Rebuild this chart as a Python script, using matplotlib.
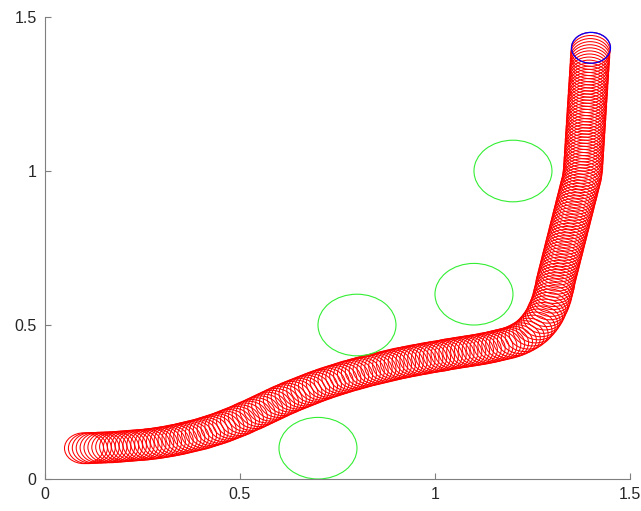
import matplotlib
matplotlib.use('Agg')
import matplotlib.pyplot as plt
from matplotlib.patches import Circle

# obstacles (green)
obs_x = [0.7, 0.8, 1.1, 1.2]
obs_y = [0.1, 0.5, 0.6, 1.0]
obs_r = 0.1

# robot radius and goal
robot_r = 0.05
goal = (1.4, 1.4)

# trajectory, in four pieces
path_x_1 = [0.10, 0.11, 0.12, 0.13, 0.14, 0.15, 0.16, 0.17, 0.18, 0.19,
            0.20, 0.21, 0.22, 0.23, 0.24, 0.25, 0.26, 0.27, 0.28, 0.29,
            0.30, 0.31, 0.32, 0.33, 0.34, 0.35, 0.36, 0.37, 0.38, 0.39,
            0.40, 0.41, 0.42, 0.43, 0.44, 0.45, 0.46, 0.47, 0.48, 0.49,
            0.50, 0.51, 0.52, 0.53, 0.54, 0.55, 0.56, 0.57, 0.58, 0.59,
            0.60, 0.61, 0.62, 0.63, 0.64, 0.65, 0.66, 0.67, 0.68, 0.69,
            0.70, 0.71, 0.72, 0.73, 0.74, 0.75, 0.76, 0.77, 0.78, 0.79,
            0.80, 0.81, 0.82, 0.83, 0.84, 0.85, 0.86, 0.87, 0.88, 0.89,
            0.90, 0.91, 0.92, 0.93, 0.94, 0.95, 0.96, 0.97, 0.98, 0.99,
            1.00, 1.01, 1.02, 1.03, 1.04, 1.05, 1.06, 1.07, 1.08, 1.09,
            1.10, 1.11, 1.12, 1.13, 1.14, 1.15, 1.16, 1.17, 1.18, 1.19,
            1.20]
path_y_1 = [0.100, 0.100, 0.101, 0.101, 0.102, 0.102, 0.103, 0.103, 0.104, 0.105,
            0.106, 0.107, 0.108, 0.109, 0.110, 0.111, 0.112, 0.114, 0.115, 0.117,
            0.119, 0.121, 0.123, 0.126, 0.128, 0.131, 0.134, 0.137, 0.140, 0.143,
            0.146, 0.150, 0.154, 0.158, 0.162, 0.166, 0.171, 0.176, 0.181, 0.186,
            0.191, 0.197, 0.203, 0.208, 0.214, 0.220, 0.226, 0.232, 0.238, 0.244,
            0.250, 0.256, 0.261, 0.267, 0.272, 0.277, 0.282, 0.287, 0.292, 0.297,
            0.302, 0.306, 0.311, 0.315, 0.319, 0.323, 0.327, 0.331, 0.335, 0.338,
            0.342, 0.345, 0.349, 0.352, 0.355, 0.358, 0.361, 0.364, 0.367, 0.370,
            0.373, 0.376, 0.378, 0.381, 0.383, 0.386, 0.388, 0.390, 0.393, 0.395,
            0.397, 0.399, 0.401, 0.404, 0.406, 0.408, 0.410, 0.412, 0.414, 0.416,
            0.418, 0.420, 0.422, 0.425, 0.427, 0.430, 0.433, 0.436, 0.439, 0.442,
            0.446]

path_x_2 = [1.210, 1.220, 1.230, 1.240, 1.250, 1.258, 1.265, 1.271, 1.277, 1.282,
            1.286, 1.290, 1.294, 1.297, 1.300, 1.302, 1.304, 1.306, 1.308]
path_y_2 = [0.451, 0.457, 0.464, 0.472, 0.482, 0.492, 0.502, 0.512, 0.523, 0.534,
            0.545, 0.556, 0.567, 0.578, 0.589, 0.600, 0.610, 0.620, 0.630]

path_x_3 = [1.309, 1.311, 1.313, 1.315, 1.317, 1.319, 1.321, 1.323, 1.325, 1.327,
            1.329, 1.331, 1.333, 1.335, 1.337, 1.339, 1.341, 1.343, 1.345, 1.347,
            1.349, 1.351, 1.353, 1.355, 1.357, 1.359, 1.361, 1.363, 1.365, 1.367,
            1.369, 1.371, 1.373, 1.375, 1.377]
path_y_3 = [0.64, 0.65, 0.66, 0.67, 0.68, 0.69, 0.70, 0.71, 0.72, 0.73,
            0.74, 0.75, 0.76, 0.77, 0.78, 0.79, 0.80, 0.81, 0.82, 0.83,
            0.84, 0.85, 0.86, 0.87, 0.88, 0.89, 0.90, 0.91, 0.92, 0.93,
            0.94, 0.95, 0.96, 0.97, 0.98]

path_x_4 = [1.378, 1.379, 1.380, 1.380, 1.381, 1.381, 1.382, 1.382, 1.383, 1.383,
            1.384, 1.384, 1.385, 1.385, 1.386, 1.386, 1.387, 1.387, 1.388, 1.388,
            1.389, 1.389, 1.390, 1.390, 1.391, 1.391, 1.392, 1.392, 1.393, 1.393,
            1.394, 1.394, 1.395, 1.395, 1.396, 1.396, 1.397, 1.397, 1.398, 1.398,
            1.399, 1.400]
path_y_4 = [0.99, 1.00, 1.01, 1.02, 1.03, 1.04, 1.05, 1.06, 1.07, 1.08,
            1.09, 1.10, 1.11, 1.12, 1.13, 1.14, 1.15, 1.16, 1.17, 1.18,
            1.19, 1.20, 1.21, 1.22, 1.23, 1.24, 1.25, 1.26, 1.27, 1.28,
            1.29, 1.30, 1.31, 1.32, 1.33, 1.34, 1.35, 1.36, 1.37, 1.38,
            1.39, 1.40]

ticks = [0, 0.5, 1, 1.5]
tick_labels = ['0', '0.5', '1', '1.5']

plt.rcParams['font.family'] = ['Liberation Sans', 'DejaVu Sans']

fig = plt.figure(figsize=(6.41, 5.11), dpi=100)
ax = fig.add_axes([0.0702, 0.0626, 0.9126, 0.9041])

path_x = path_x_1 + path_x_2 + path_x_3 + path_x_4
path_y = path_y_1 + path_y_2 + path_y_3 + path_y_4
for px, py in zip(path_x, path_y):
    ax.add_patch(Circle((px, py), robot_r, fill=False, edgecolor='red', linewidth=0.75))

for ox, oy in zip(obs_x, obs_y):
    ax.add_patch(Circle((ox, oy), obs_r, fill=False, edgecolor='#33ee33', linewidth=0.8))

ax.add_patch(Circle(goal, robot_r, fill=False, edgecolor='blue', linewidth=0.9))

ax.set_xlim(0, 1.5)
ax.set_ylim(0, 1.5)
ax.set_xticks(ticks)
ax.set_xticklabels(tick_labels)
ax.set_yticks(ticks)
ax.set_yticklabels(tick_labels)
ax.spines['top'].set_visible(False)
ax.spines['right'].set_visible(False)
for s in ['left', 'bottom']:
    ax.spines[s].set_color('#7f7f7f')
    ax.spines[s].set_linewidth(0.8)
ax.tick_params(direction='in', length=4, width=0.8, color='#7f7f7f',
               labelsize=11.5, labelcolor='#262626', pad=6)

fig.savefig('out.png', dpi=100)
